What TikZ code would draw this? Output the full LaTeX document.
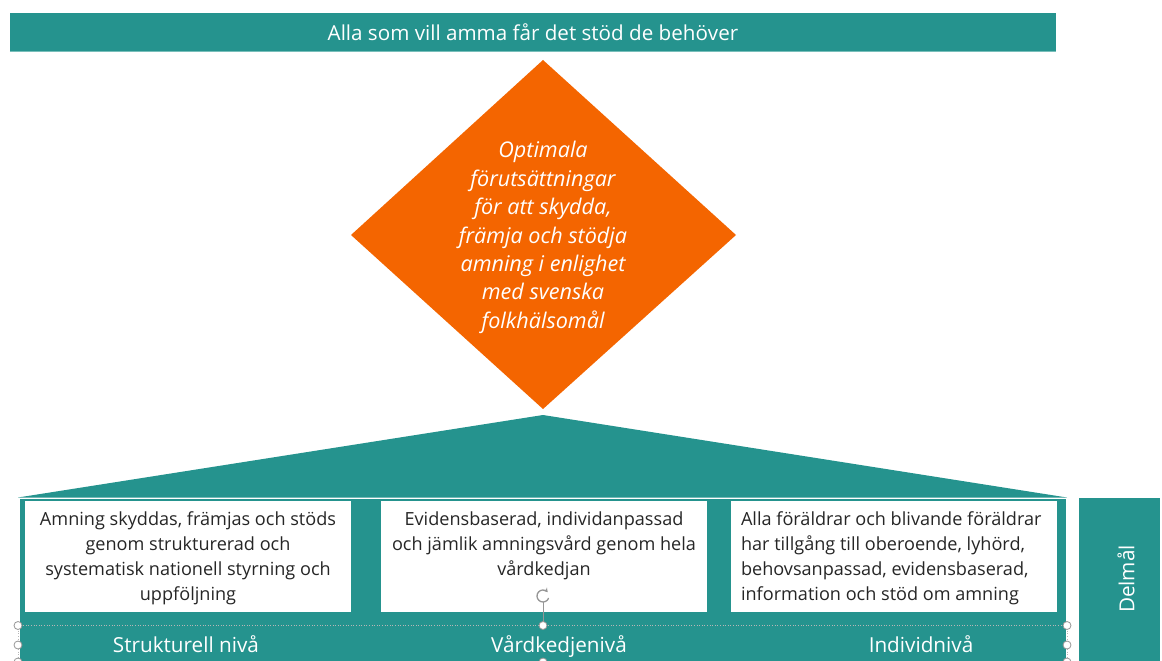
\documentclass[tikz,border=0pt]{standalone}
\usepackage{fontspec}
\setmainfont{Open Sans}
\usetikzlibrary{arrows.meta}
\definecolor{tealc}{RGB}{37,147,142}
\definecolor{tealline}{RGB}{120,190,186}
\definecolor{orng}{RGB}{244,101,0}
\definecolor{txtc}{RGB}{38,38,38}
\definecolor{hnd}{RGB}{150,150,150}
\begin{document}
\begin{tikzpicture}[x=1pt,y=-1pt,
  whitebox/.style={fill=white,minimum width=326pt,minimum height=111pt,inner sep=0pt},
  boxtext/.style={font=\fontsize{18.1}{25}\selectfont,text=txtc,inner sep=0pt},
  lvl/.style={font=\fontsize{20.7}{25}\selectfont,text=white,inner sep=0pt},
  handle/.style={circle,draw=hnd,fill=white,line width=0.8pt,minimum size=8pt,inner sep=0pt}]
\useasboundingbox (0,0) rectangle (1162,661);
% top goal bar
\node[fill=tealc,minimum width=1046pt,minimum height=38pt,inner sep=0pt,
  font=\fontsize{20.6}{24}\selectfont,text=white] (goal) at (533,32) {Alla som vill amma får det stöd de behöver};
\draw[tealline,line width=1pt] (goal.south west) -- (goal.south east);
% diamond
\coordinate (dt) at (543,60);
\coordinate (dr) at (736,235);
\coordinate (db) at (543,409);
\coordinate (dl) at (351,235);
\fill[orng] (dt) -- (dr) -- (db) -- (dl) -- cycle;
\node[font=\itshape\fontsize{21.6}{28.4}\selectfont,text=white,align=center,inner sep=0pt] (vision) at (543,237.5)
  {Optimala\\förutsättningar\\för att skydda,\\främja och stödja\\amning i enlighet\\med svenska\\folkhälsomål};
% roof
\coordinate (ra) at (543,415);
\coordinate (rr) at (1067,497.5);
\coordinate (rl) at (18,497.5);
\fill[tealc] (ra) -- (rr) -- (rl) -- cycle;
% body
\fill[tealc] (20,499) rectangle (1066,661);
\node[whitebox] (b1) at (188,556.5) {};
\node[whitebox] (b2) at (544,556.5) {};
\node[whitebox] (b3) at (894,556.5) {};
\node[boxtext,align=center] (t1) at ([yshift=-2pt]b1.center)
  {Amning skyddas, främjas och stöds\\genom strukturerad och\\systematisk nationell styrning och\\uppföljning};
\node[boxtext,align=center,anchor=north] (t2) at ([yshift=-11pt]b2.north)
  {Evidensbaserad, individanpassad\\och jämlik amningsvård genom hela\\vårdkedjan};
\node[boxtext,align=left,anchor=west] (t3) at ([xshift=10pt,yshift=-2pt]b3.west)
  {Alla föräldrar och blivande föräldrar\\har tillgång till oberoende, lyhörd,\\behovsanpassad, evidensbaserad,\\information och stöd om amning};
% level labels
\node[lvl,anchor=base] (l1) at (186,652) {Strukturell nivå};
\node[lvl,anchor=base] (l2) at (559,652) {Vårdkedjenivå};
\node[lvl,anchor=base] (l3) at (921,652) {Individnivå};
% Delmal
\node[fill=tealc,minimum width=81pt,minimum height=163pt,inner sep=0pt] (dm) at (1119.5,579.5) {};
\node[lvl,rotate=90] (dmt) at (1126,579) {Delmål};
% selection handles
\coordinate (sl) at (18,625.5);
\coordinate (sr) at (1067,625.5);
\coordinate (sm) at (543,625.5);
\coordinate (rot) at (543,602);
\draw[hnd!70,dotted,line width=0.6pt] (sl) -- (sr);
\draw[hnd!70,dotted,line width=0.6pt] (sl) -- (18,661);
\draw[hnd!70,dotted,line width=0.6pt] (sr) -- (1067,661);
\draw[hnd,line width=0.8pt] (rot) -- (sm);
\draw[hnd,line width=1.3pt,-{Stealth[length=4pt,width=5pt]}] ([shift={(-20:6pt)}]543,596) arc[start angle=-20,end angle=-320,radius=6pt];
\node[handle] (h1) at (sl) {};
\node[handle] (h2) at (18,645) {};
\node[handle] (h3) at (sm) {};
\node[handle] (h4) at (sr) {};
\node[handle] (h5) at (1067,645) {};
\node[handle] (h6) at (18,662) {};
\node[handle] (h7) at (543,662) {};
\node[handle] (h8) at (1067,662) {};
\end{tikzpicture}
\end{document}
